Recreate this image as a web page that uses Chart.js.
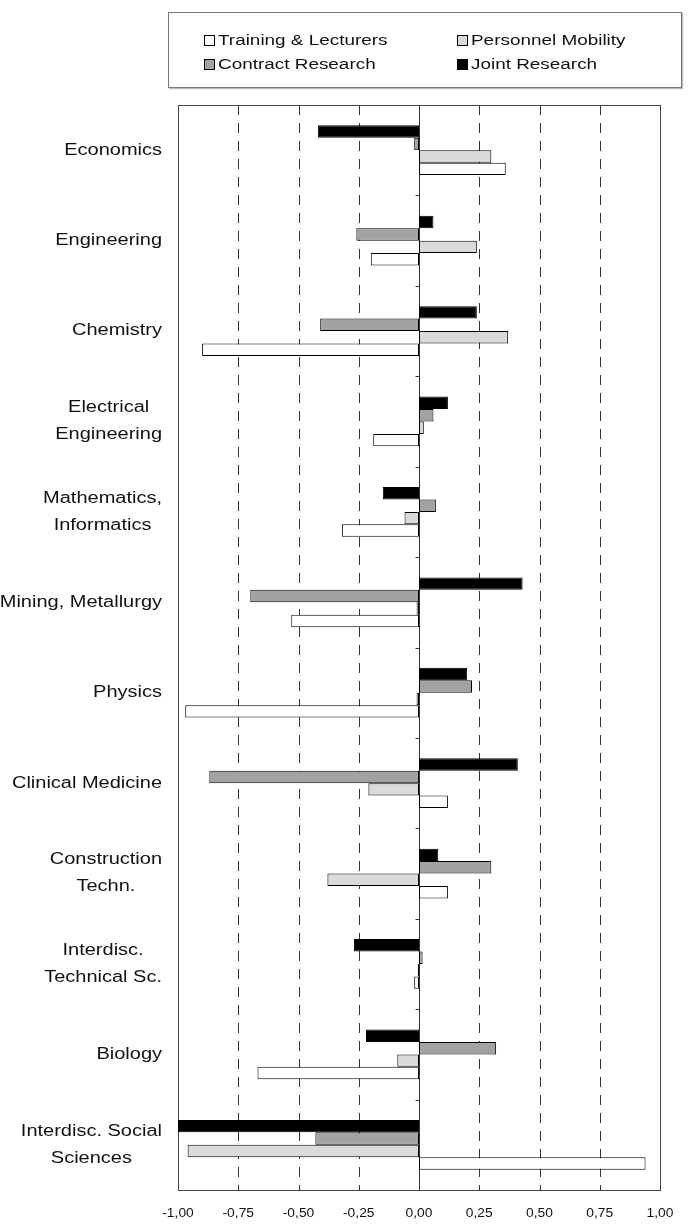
<!DOCTYPE html>
<html>
<head>
<meta charset="utf-8">
<title>Collaboration by field</title>
<script src="https://cdn.jsdelivr.net/npm/chart.js@4.4.1/dist/chart.umd.min.js"></script>
<style>
  body { margin: 0; background: #fff; }
  #wrap { position: relative; width: 696px; height: 1228px; }
  #legend {
    position: absolute; left: 168px; top: 12px; width: 512px; height: 74px;
    border: 1px solid #777; box-shadow: 1px 1px 1px #bbb;
    font-family: 'Liberation Sans', Arial, sans-serif; font-size: 15.5px; color: #111;
  }
  .item { position: absolute; display: flex; align-items: center; height: 16px; }
  .sw { width: 9px; height: 9px; border: 1px solid #000; margin-right: 3px; }
  .lbl { display: inline-block; transform: scaleX(1.22); transform-origin: left center; white-space: nowrap; }
</style>
</head>
<body>
<div id="wrap">
  <canvas id="chart"></canvas>
  <div id="legend"></div>
</div>
<script>
const categories = [
  ['Economics'], ['Engineering'], ['Chemistry'], ['Electrical', 'Engineering'],
  ['Mathematics,', 'Informatics'], ['Mining, Metallurgy'], ['Physics'], ['Clinical Medicine'],
  ['Construction', 'Techn.'], ['Interdisc.', 'Technical Sc.'], ['Biology'], ['Interdisc. Social', 'Sciences']
];

const trainingLecturers = [0.36, -0.20, -0.90, -0.19, -0.32, -0.53, -0.97, 0.12, 0.12, -0.02, -0.67, 0.94];
const personnelMobility = [0.30, 0.24, 0.37, 0.02, -0.06, -0.01, -0.01, -0.21, -0.38, -0.005, -0.09, -0.96];
const contractResearch = [-0.02, -0.26, -0.41, 0.06, 0.07, -0.70, 0.22, -0.87, 0.30, 0.015, 0.32, -0.43];
const jointResearch = [-0.42, 0.06, 0.24, 0.12, -0.15, 0.43, 0.20, 0.41, 0.08, -0.27, -0.22, -1.00];

const xTickValues = [-1, -0.75, -0.5, -0.25, 0, 0.25, 0.5, 0.75, 1];
const xTickLabels = ['-1,00', '-0,75', '-0,50', '-0,25', '0,00', '0,25', '0,50', '0,75', '1,00'];

const FONT = "'Liberation Sans', Arial, sans-serif";
const STRETCH = 1.25;
const TEXT_COLOR = '#111';

// dataset order = top-to-bottom order of bars inside a category
const datasets = [
  { label: 'Joint Research', data: jointResearch, backgroundColor: '#000000' },
  { label: 'Contract Research', data: contractResearch, backgroundColor: '#a2a2a2' },
  { label: 'Personnel Mobility', data: personnelMobility, backgroundColor: '#dadada' },
  { label: 'Training & Lecturers', data: trainingLecturers, backgroundColor: '#ffffff' }
].map((d) => Object.assign(d, {
  borderColor: '#000',
  borderWidth: 1,
  borderSkipped: false,
  categoryPercentage: 0.55,
  barPercentage: 1.0
}));

function stretchedText(ctx, text, cx, cy, sx) {
  ctx.save();
  ctx.translate(cx, cy);
  ctx.scale(sx, 1);
  ctx.textAlign = 'center';
  ctx.textBaseline = 'middle';
  ctx.fillText(text, 0, 0);
  ctx.restore();
}

const framePlugin = {
  id: 'frame',
  beforeDatasetsDraw(chart) {
    const { ctx, chartArea: a, scales: { x, y } } = chart;
    ctx.save();
    ctx.strokeStyle = '#333';
    ctx.lineWidth = 1;
    x.ticks.forEach((t) => {
      const px = Math.round(x.getPixelForValue(t.value)) + 0.5;
      if (t.value === -1 || t.value === 1) return;
      ctx.setLineDash(t.value === 0 ? [] : [10, 8]);
      ctx.beginPath();
      ctx.moveTo(px, a.top);
      ctx.lineTo(px, a.bottom);
      ctx.stroke();
    });
    ctx.setLineDash([]);
    // small ticks on the zero line between categories
    const x0 = Math.round(x.getPixelForValue(0)) + 0.5;
    for (let i = 0; i < categories.length - 1; i++) {
      const yy = Math.round((y.getPixelForValue(i) + y.getPixelForValue(i + 1)) / 2) + 0.5;
      ctx.beginPath();
      ctx.moveTo(x0 - 4, yy);
      ctx.lineTo(x0, yy);
      ctx.stroke();
    }
    ctx.strokeStyle = '#444';
    ctx.strokeRect(Math.round(a.left) + 0.5, Math.round(a.top) + 0.5,
      Math.round(a.right - a.left), Math.round(a.bottom - a.top));
    ctx.restore();
  },
  afterDraw(chart) {
    const { ctx, chartArea: a, scales: { x, y } } = chart;
    ctx.save();
    ctx.fillStyle = TEXT_COLOR;
    ctx.font = '16px ' + FONT;
    categories.forEach((lines, i) => {
      const cy = y.getPixelForValue(i);
      const widths = lines.map((l) => ctx.measureText(l).width * STRETCH);
      const cx = 162 - Math.max(...widths) / 2;
      const lh = 27;
      lines.forEach((l, k) => {
        stretchedText(ctx, l, cx, cy + (k - (lines.length - 1) / 2) * lh, STRETCH);
      });
    });
    ctx.font = '12px ' + FONT;
    x.ticks.forEach((t, i) => {
      stretchedText(ctx, xTickLabels[i], x.getPixelForValue(t.value), a.bottom + 24, 1.15);
    });
    ctx.restore();
  }
};

function buildLegend() {
  const box = document.getElementById('legend');
  const slots = [
    ['Training & Lecturers', 35, 19], ['Personnel Mobility', 288, 19],
    ['Contract Research', 35, 43], ['Joint Research', 288, 43]
  ];
  slots.forEach(([name, left, top]) => {
    const ds = datasets.find((d) => d.label === name);
    const item = document.createElement('div');
    item.className = 'item';
    item.style.left = left + 'px';
    item.style.top = top + 'px';
    item.innerHTML = '<span class="sw" style="background:' + ds.backgroundColor + '"></span>' +
      '<span class="lbl"></span>';
    item.querySelector('.lbl').textContent = name;
    box.appendChild(item);
  });
}

new Chart(document.getElementById('chart'), {
  type: 'bar',
  data: { labels: categories.map((c) => c.join(' ')), datasets },
  options: {
    indexAxis: 'y',
    responsive: true,
    maintainAspectRatio: false,
    animation: false,
    layout: { padding: { top: 105, right: 36, bottom: 0, left: 0 } },
    plugins: { legend: { display: false }, tooltip: { enabled: false } },
    scales: {
      x: {
        min: -1,
        max: 1,
        afterBuildTicks: (scale) => { scale.ticks = xTickValues.map((v) => ({ value: v })); },
        afterFit: (scale) => { scale.height = 38; },
        ticks: { display: false },
        grid: { display: false },
        border: { display: false }
      },
      y: {
        afterFit: (scale) => { scale.width = 178; },
        ticks: { display: false },
        grid: { display: false },
        border: { display: false }
      }
    }
  },
  plugins: [framePlugin]
});

buildLegend();
</script>
</body>
</html>
